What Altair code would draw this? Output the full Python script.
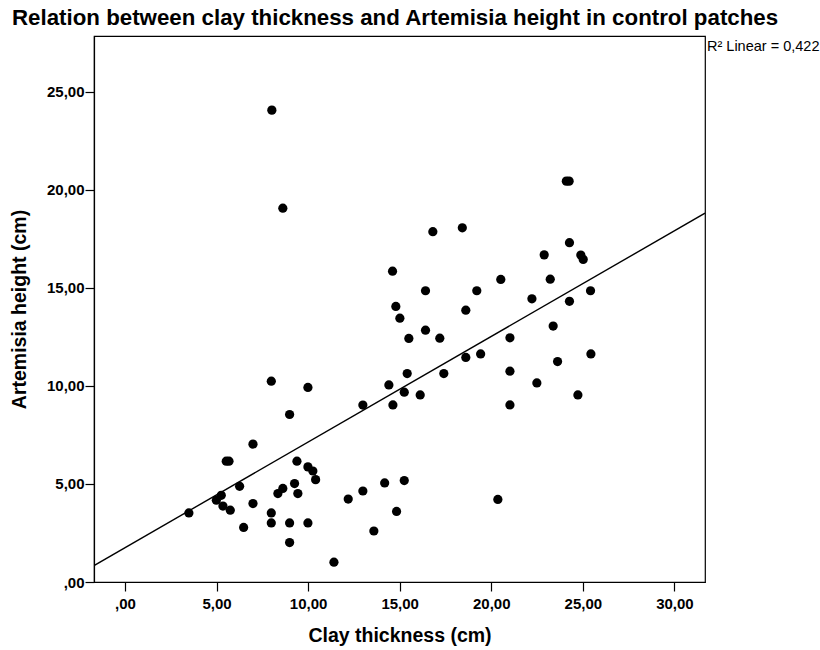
import altair as alt
import pandas as pd

clay = [
    3.49, 4.99, 5.26, 5.35, 5.53, 5.68, 5.75, 6.26, 6.48, 6.99, 6.99,
    7.99, 7.99, 7.99, 8.02, 8.35, 8.62, 8.62, 8.99, 8.99, 8.99, 9.26, 9.39, 9.44,
    9.99, 9.99, 9.99, 10.26, 10.41, 11.41, 12.19, 12.99, 12.99, 13.59,
    14.18, 14.41, 14.61, 14.63, 14.79, 14.83, 15.01, 15.25, 15.25, 15.41, 15.50,
    16.12, 16.41, 16.41, 16.81, 17.19, 17.41, 18.42, 18.61, 18.61, 19.21, 19.42,
    20.36, 20.52, 21.02, 21.02, 21.02, 22.22, 22.49, 22.89, 23.22, 23.38, 23.62,
    24.10, 24.25, 24.27, 24.27, 24.73, 24.89, 25.02, 25.42, 25.44,
]
height = [
    3.52, 4.17, 4.42, 3.87, 6.16, 6.16, 3.66, 4.88, 2.78, 7.03, 4.00,
    10.24, 3.52, 3.01, 24.06, 4.51, 4.77, 19.06, 8.54, 3.01, 2.01, 5.02, 6.16, 4.51,
    9.92, 5.87, 3.01, 5.66, 5.22, 1.01, 4.23, 9.02, 4.64, 2.60,
    5.05, 10.05, 15.85, 9.03, 14.05, 3.60, 13.45, 9.68, 5.17, 10.63, 12.42,
    9.54, 14.85, 12.84, 17.86, 12.43, 10.63, 18.06, 13.86, 11.45, 14.85, 11.63,
    4.21, 15.43, 12.45, 10.75, 9.03, 14.44, 10.15, 16.68, 15.44, 13.05, 11.24,
    20.44, 20.44, 17.30, 14.31, 9.54, 16.67, 16.45, 14.85, 11.63,
]

x_ticks = [0, 5, 10, 15, 20, 25, 30]
y_ticks = [0, 5, 10, 15, 20, 25]
x_domain = [-1.69, 31.67]
y_domain = [0, 27.84]
title_text = "Relation between clay thickness and Artemisia height in control patches"
x_title = "Clay thickness (cm)"
y_title = "Artemisia height (cm)"
r2_label = "R² Linear = 0,422"

df = pd.DataFrame({"clay": clay, "height": height})

label_expr = "datum.value == 0 ? ',00' : replace(format(datum.value, '.2f'), '.', ',')"
FONT = "Liberation Sans"

x_enc = alt.X(
    "clay:Q",
    scale=alt.Scale(domain=x_domain, nice=False, zero=False),
    axis=alt.Axis(values=x_ticks, labelExpr=label_expr, title=x_title,
                  tickSize=9, labelPadding=5, titlePadding=15, grid=False),
)
y_enc = alt.Y(
    "height:Q",
    scale=alt.Scale(domain=y_domain, nice=False, zero=False),
    axis=alt.Axis(values=y_ticks, labelExpr=label_expr, title=y_title,
                  tickSize=9, labelPadding=1, titlePadding=17, grid=False),
)

points = alt.Chart(df).mark_circle(size=85, color="black", opacity=1).encode(x=x_enc, y=y_enc)

line = alt.Chart(df).transform_regression(
    "clay", "height", extent=x_domain
).mark_line(color="black", strokeWidth=1.4, clip=True).encode(x=x_enc, y=y_enc)

r2 = alt.Chart(pd.DataFrame({"t": [r2_label]})).mark_text(
    align="left", baseline="middle", fontSize=14.5, font=FONT, color="black"
).encode(text="t:N", x=alt.value(613), y=alt.value(11))

chart = alt.layer(points, line, r2).properties(
    width=611,
    height=546,
    title=alt.TitleParams(title_text, anchor="start", frame="group", dx=-82, offset=7,
                          fontSize=22.3, font=FONT, fontWeight="bold", color="black"),
    autosize=alt.AutoSizeParams(type="none"),
    padding={"left": 94, "top": 36, "right": 115, "bottom": 68},
).configure_view(
    stroke="black", strokeWidth=1.2
).configure_axis(
    labelFont=FONT, labelFontSize=15, labelFontWeight="bold", labelColor="black",
    titleFont=FONT, titleFontSize=19.5, titleFontWeight="bold", titleColor="black",
    domainColor="black", tickColor="black", domainWidth=1.2, tickWidth=1.2,
)

chart.save("out.html", embed_options={"renderer": "svg", "actions": False})
